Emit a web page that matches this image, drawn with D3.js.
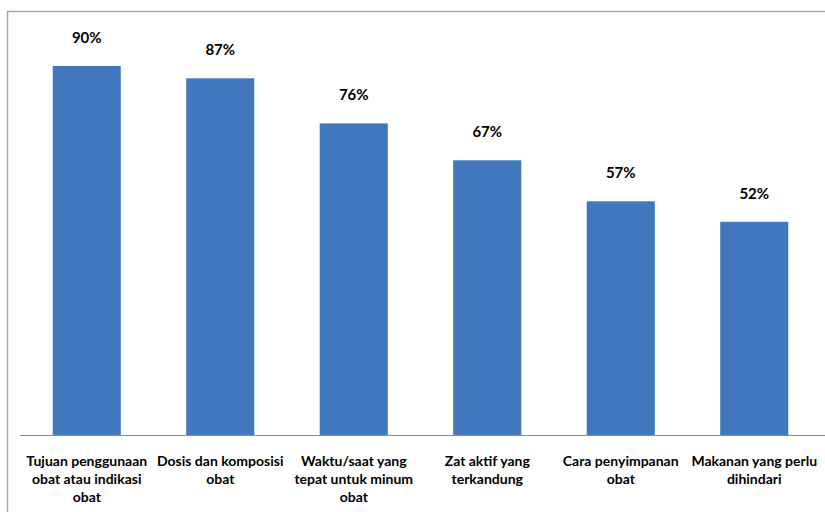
<!DOCTYPE html>
<html>
<head>
<meta charset="utf-8">
<script src="https://cdn.jsdelivr.net/npm/d3@7"></script>
<style>
  body { margin: 0; background: #fff; }
  text { font-family: Lato, "Open Sans", sans-serif; font-weight: bold; fill: #000; }
</style>
</head>
<body>
<svg width="825" height="512"></svg>
<script>
var categories = [
    ['Tujuan penggunaan', 'obat atau indikasi', 'obat'],
    ['Dosis dan komposisi', 'obat'],
    ['Waktu/saat yang', 'tepat untuk minum', 'obat'],
    ['Zat aktif yang', 'terkandung'],
    ['Cara penyimpanan', 'obat'],
    ['Makanan yang perlu', 'dihindari']
];
var values = [0.90, 0.87, 0.76, 0.67, 0.57, 0.52];
var labels = ['90%', '87%', '76%', '67%', '57%', '52%'];

var svg = d3.select('svg');

// chart border (only left and top visible in frame)
svg.append('rect')
    .attr('x', 7.5).attr('y', 11.5)
    .attr('width', 840).attr('height', 540)
    .attr('fill', 'none')
    .attr('stroke', '#a6a6a6')
    .attr('stroke-width', 1.5);

var ScaleX = d3.scaleBand()
    .domain(d3.range(values.length))
    .range([20, 821])
    .paddingInner(0.49)
    .paddingOuter(0.245);

var ScaleY = d3.scaleLinear().domain([0, 1]).range([435, 25]);

svg.selectAll('.bar')
    .data(values)
    .enter()
    .append('rect')
    .attr('class', 'bar')
    .attr('x', function(d, i){ return ScaleX(i); })
    .attr('y', function(d){ return ScaleY(d); })
    .attr('width', ScaleX.bandwidth())
    .attr('height', function(d){ return ScaleY(0) - ScaleY(d); })
    .attr('fill', '#4177bd');

svg.selectAll('.val')
    .data(values)
    .enter()
    .append('text')
    .attr('class', 'val')
    .attr('x', function(d, i){ return ScaleX(i) + ScaleX.bandwidth() / 2; })
    .attr('y', function(d){ return ScaleY(d) - 23; })
    .attr('text-anchor', 'middle')
    .style('font-size', '15px')
    .text(function(d, i){ return labels[i]; });

// x axis line
svg.append('line')
    .attr('x1', 20).attr('x2', 825)
    .attr('y1', 435.5).attr('y2', 435.5)
    .attr('stroke', '#8c8c8c')
    .attr('stroke-width', 1);

var cat = svg.selectAll('.cat')
    .data(categories)
    .enter()
    .append('text')
    .attr('class', 'cat')
    .attr('text-anchor', 'middle')
    .style('font-size', '14px');

cat.selectAll('tspan')
    .data(function(d, i){ return d.map(function(t){ return {t: t, i: i}; }); })
    .enter()
    .append('tspan')
    .attr('x', function(d){ return ScaleX(d.i) + ScaleX.bandwidth() / 2; })
    .attr('y', function(d, j){ return 466 + j * 18; })
    .text(function(d){ return d.t; });
</script>
</body>
</html>
